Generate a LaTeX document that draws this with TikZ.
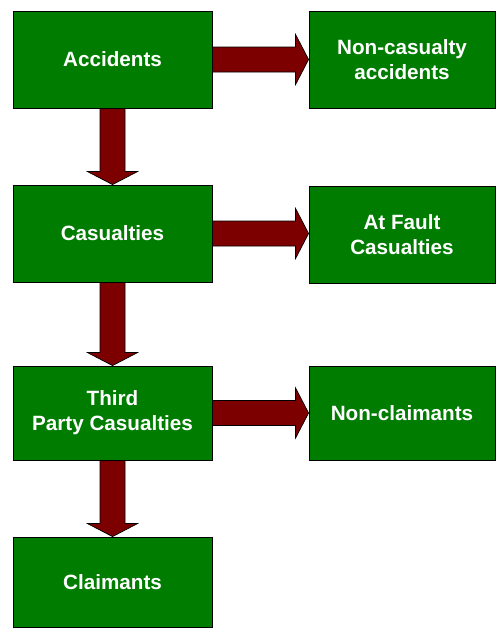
\documentclass[tikz,border=0pt]{standalone}
\usepackage{fontspec}
\setmainfont{Liberation Sans}
\usepackage{tikz}
\usetikzlibrary{shapes,arrows,calc}
\definecolor{boxgreen}{RGB}{0,125,0}
\definecolor{flowred}{RGB}{124,0,0}
\tikzstyle{block} = [rectangle, draw=black, line width=0.6pt, fill=boxgreen, text=white, align=center, font=\fontsize{14.7}{17.8}\selectfont\bfseries, inner sep=0pt, minimum width=4.975cm, minimum height=2.425cm]
\tikzstyle{sideblock} = [block, minimum width=4.65cm]
\tikzstyle{flowright} = [draw=black, line width=0.5pt, fill=flowred, to path={let \p1=(\tikztostart), \p2=(\tikztotarget) in
  (\x1,\y1+0.3125cm) -- (\x2-0.325cm,\y1+0.3125cm) -- (\x2-0.325cm,\y1+0.625cm) -- (\x2,\y1)
  -- (\x2-0.325cm,\y1-0.625cm) -- (\x2-0.325cm,\y1-0.3125cm) -- (\x1,\y1-0.3125cm) -- cycle}]
\tikzstyle{flowdown} = [draw=black, line width=0.5pt, fill=flowred, to path={let \p1=(\tikztostart), \p2=(\tikztotarget) in
  (\x1-0.3125cm,\y1) -- (\x1-0.3125cm,\y2+0.325cm) -- (\x1-0.625cm,\y2+0.325cm) -- (\x1,\y2)
  -- (\x1+0.625cm,\y2+0.325cm) -- (\x1+0.3125cm,\y2+0.325cm) -- (\x1+0.3125cm,\y1) -- cycle}]

\begin{document}
\begin{tikzpicture}
\useasboundingbox (0,0) rectangle (12.4,-15.725);
\node [block] (accidents) at (2.8125,-1.4875) {Accidents};
\node [sideblock] (non-casualty) at (10.05,-1.4875) {Non-casualty\\accidents};
\node [block] (casualties) at (2.8125,-5.8375) {Casualties};
\node [sideblock] (at-fault) at (10.05,-5.875) {At Fault\\Casualties};
\node [block, minimum height=2.35cm] (third-party) at (2.8125,-10.325) {Third\\Party Casualties};
\node [sideblock, minimum height=2.35cm] (non-claimants) at (10.05,-10.325) {Non-claimants};
\node [block, minimum height=2.25cm] (claimants) at (2.8125,-14.55) {Claimants};
% side flows
\path [flowright] (accidents.east) to (non-casualty.west);
\path [flowright] (casualties.east) to (at-fault.west);
\path [flowright] (third-party.east) to (non-claimants.west);
% main flow down
\path [flowdown] (accidents.south) to (casualties.north);
\path [flowdown] (casualties.south) to (third-party.north);
\path [flowdown] (third-party.south) to (claimants.north);
\end{tikzpicture}
\end{document}
